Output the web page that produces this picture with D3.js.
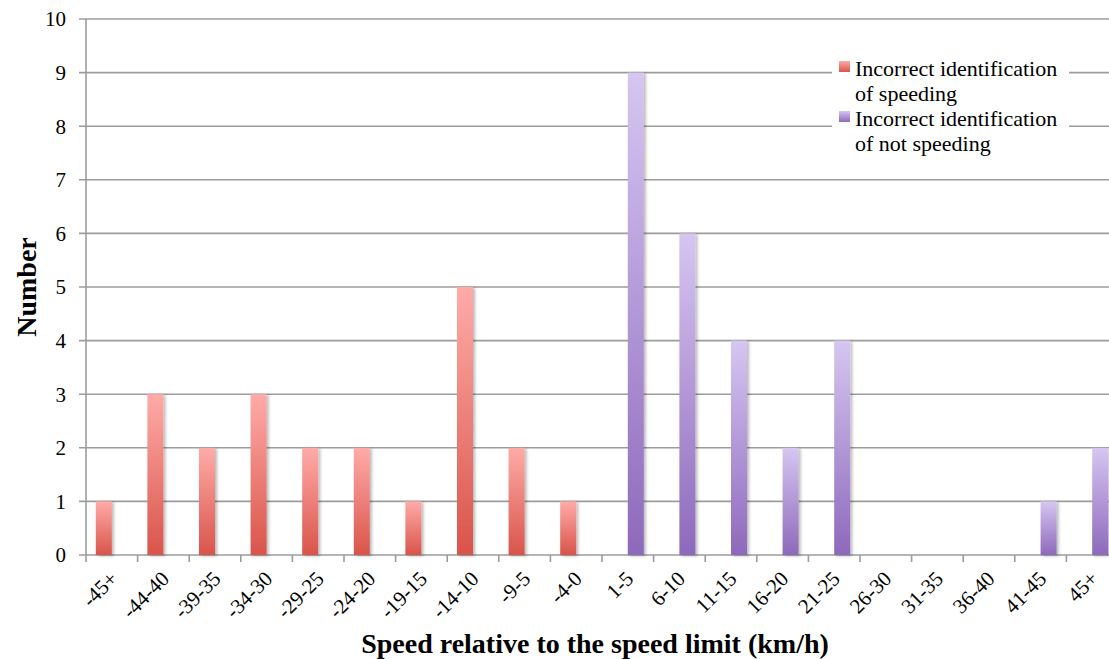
<!DOCTYPE html>
<html>
<head>
<meta charset="utf-8">
<script src="https://cdn.jsdelivr.net/npm/d3@7"></script>
<style>
  body { margin: 0; background: #fff; }
  text { font-family: "Liberation Serif", "Times New Roman", serif; fill: #000; }
</style>
</head>
<body>
<div id="chart"></div>
<script>
// speed bins (km/h relative to the limit)
const categories = ["-45+", "-44-40", "-39-35", "-34-30", "-29-25", "-24-20", "-19-15", "-14-10", "-9-5", "-4-0",
  "1-5", "6-10", "11-15", "16-20", "21-25", "26-30", "31-35", "36-40", "41-45", "45+"];
const speedingWrong = [1, 3, 2, 3, 2, 2, 1, 5, 2, 1, 0, 0, 0, 0, 0, 0, 0, 0, 0, 0];
const notSpeedingWrong = [0, 0, 0, 0, 0, 0, 0, 0, 0, 0, 9, 6, 4, 2, 4, 0, 0, 0, 1, 2];
const seriesNames = ["Incorrect identification of speeding", "Incorrect identification of not speeding"];
const yTicks = [0, 1, 2, 3, 4, 5, 6, 7, 8, 9, 10];

class ClusterChart {
  constructor(_config) {
    this.config = {
      parentElement: _config.parentElement,
      containerWidth: 1109,
      containerHeight: 659,
      left: 86, top: 19, bottom: 555, right: 1118
    };
    this.initVis();
  }

  initVis() {
    let vis = this;
    const c = vis.config;

    vis.svg = d3.select(c.parentElement).append("svg")
      .attr("width", c.containerWidth)
      .attr("height", c.containerHeight);

    const defs = vis.svg.append("defs");
    const grads = [["redGrad", "#ffaba8", "#d9544a"], ["purpleGrad", "#d6c6f1", "#8d69bb"]];
    grads.forEach(([id, top, bot]) => {
      const g = defs.append("linearGradient").attr("id", id)
        .attr("x1", 0).attr("y1", 0).attr("x2", 0).attr("y2", 1);
      g.append("stop").attr("offset", "0%").attr("stop-color", top);
      g.append("stop").attr("offset", "100%").attr("stop-color", bot);
    });
    defs.append("filter").attr("id", "shadow")
      .attr("x", "-50%").attr("y", "-10%").attr("width", "200%").attr("height", "120%")
      .append("feDropShadow")
      .attr("dx", 2).attr("dy", 1).attr("stdDeviation", 1.8)
      .attr("flood-color", "#000").attr("flood-opacity", 0.28);

    vis.x = d3.scaleBand().domain(categories).range([c.left, c.right]);
    vis.y = d3.scaleLinear().domain([0, 10]).range([c.bottom, c.top]);

    vis.updateVis();
  }

  updateVis() {
    let vis = this;
    const c = vis.config;
    const barW = 16;

    // horizontal grid lines + y tick marks
    vis.svg.append("g").selectAll("line").data(yTicks).join("line")
      .attr("x1", c.left - 7).attr("x2", c.containerWidth)
      .attr("y1", d => vis.y(d)).attr("y2", d => vis.y(d))
      .attr("stroke", "#9c9c9c").attr("stroke-width", 1.6);

    // y axis line
    vis.svg.append("line")
      .attr("x1", c.left).attr("x2", c.left)
      .attr("y1", c.top).attr("y2", c.bottom)
      .attr("stroke", "#9c9c9c").attr("stroke-width", 1.6);

    // x tick marks on the category boundaries
    vis.svg.append("g").selectAll("line").data(categories).join("line")
      .attr("x1", d => vis.x(d)).attr("x2", d => vis.x(d))
      .attr("y1", c.bottom).attr("y2", c.bottom + 7)
      .attr("stroke", "#9c9c9c").attr("stroke-width", 1.6);

    // bars
    const bars = vis.svg.append("g").attr("filter", "url(#shadow)");
    bars.selectAll(".red").data(speedingWrong.map((v, i) => ({ v, c: categories[i] })).filter(d => d.v > 0))
      .join("rect")
      .attr("x", d => vis.x(d.c) + vis.x.bandwidth() / 2 - barW)
      .attr("y", d => vis.y(d.v))
      .attr("width", barW)
      .attr("height", d => vis.y(0) - vis.y(d.v))
      .attr("fill", "url(#redGrad)");
    bars.selectAll(".purple").data(notSpeedingWrong.map((v, i) => ({ v, c: categories[i] })).filter(d => d.v > 0))
      .join("rect")
      .attr("x", d => vis.x(d.c) + vis.x.bandwidth() / 2)
      .attr("y", d => vis.y(d.v))
      .attr("width", barW)
      .attr("height", d => vis.y(0) - vis.y(d.v))
      .attr("fill", "url(#purpleGrad)");

    // y tick labels
    vis.svg.append("g").selectAll("text").data(yTicks).join("text")
      .attr("x", c.left - 20).attr("y", d => vis.y(d))
      .attr("dy", "0.35em").attr("text-anchor", "end")
      .style("font-size", "21px")
      .text(d => d);

    // x tick labels, rotated
    vis.svg.append("g").selectAll("text").data(categories).join("text")
      .attr("text-anchor", "end")
      .attr("transform", d => `translate(${vis.x(d) + vis.x.bandwidth() / 2 + 7},${c.bottom + 25}) rotate(-45)`)
      .style("font-size", "21px")
      .text(d => d);

    this.addLabels();
  }

  addLabels() {
    let vis = this;

    vis.svg.append("text")
      .attr("x", 595).attr("y", 653)
      .attr("text-anchor", "middle")
      .style("font-size", "28px").style("font-weight", "bold")
      .text("Speed relative to the speed limit (km/h)");

    vis.svg.append("text")
      .attr("transform", "translate(36,287) rotate(-90)")
      .attr("text-anchor", "middle")
      .style("font-size", "28px").style("font-weight", "bold")
      .text("Number");

    // legend
    const lg = vis.svg.append("g");
    lg.append("rect").attr("x", 832).attr("y", 55).attr("width", 237).attr("height", 103).attr("fill", "#fff");
    const fills = ["url(#redGrad)", "url(#purpleGrad)"];
    seriesNames.forEach((name, i) => {
      const y0 = 61 + i * 50;
      lg.append("rect").attr("x", 839).attr("y", y0).attr("width", 11).attr("height", 11).attr("fill", fills[i]);
      const parts = [name.slice(0, 24), name.slice(25)];
      parts.forEach((p, j) => {
        lg.append("text").attr("x", 855).attr("y", y0 + 15 + j * 25)
          .style("font-size", "22px").text(p);
      });
    });
  }
}

new ClusterChart({ parentElement: "#chart" });
</script>
</body>
</html>
